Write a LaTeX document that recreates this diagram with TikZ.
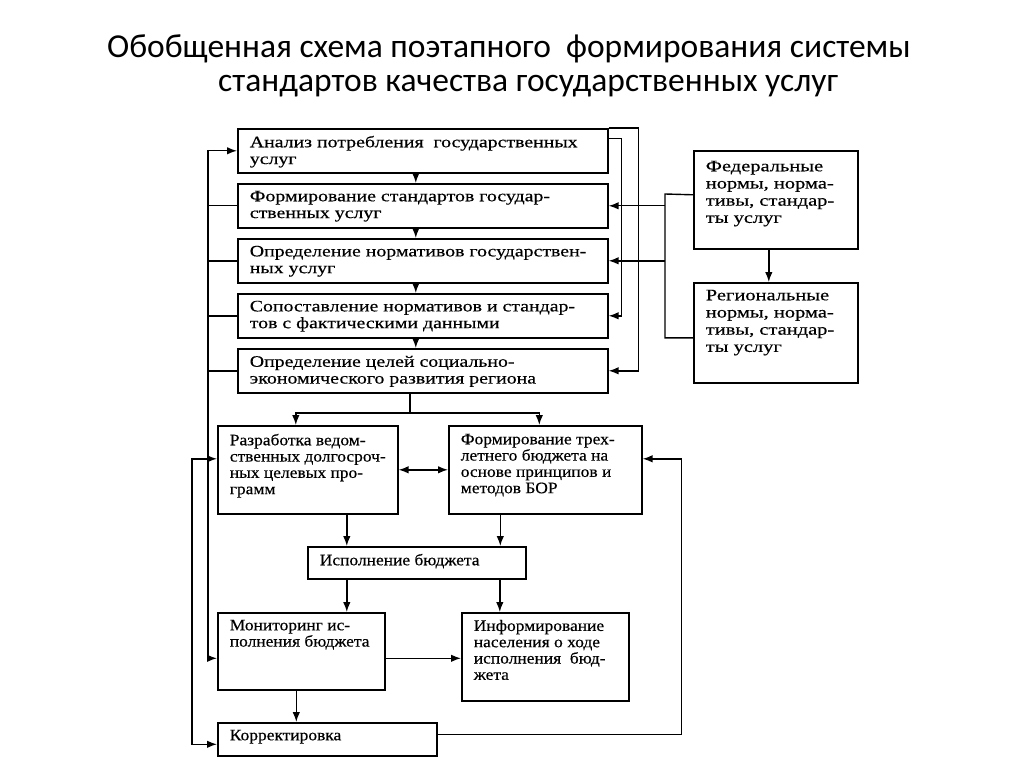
\documentclass[tikz,border=0pt]{standalone}
\usepackage{fontspec}
\setmainfont{Liberation Serif}
\newfontfamily\titlefont{Carlito}
\newfontfamily\boxfont[FakeStretch=1.24, FakeBold=0.4]{Liberation Serif}
\newfontfamily\sidefont[FakeStretch=1.28, FakeBold=0.4]{Liberation Serif}
\newfontfamily\lowfont[FakeStretch=1.09, FakeBold=0.4]{Liberation Serif}
\usetikzlibrary{arrows.meta}
\newcommand{\blktext}[3]{\parbox[c][#2pt][t]{#1pt}{\vspace*{7pt}\leftskip=12pt\rightskip=0pt plus 1fil\parindent=0pt #3}}

\begin{document}
\begin{tikzpicture}[x=1pt, y=-1pt,
	blk/.style={draw, line width=1.6pt, inner sep=0pt, anchor=north west, font=\boxfont\fontsize{16}{16.8}\selectfont},
	side/.style={blk, font=\sidefont\fontsize{16}{17.2}\selectfont},
	low/.style={blk, font=\lowfont\fontsize{16}{16.3}\selectfont},
	arr/.style={line width=1.4pt, -{Latex[length=10pt,width=7.5pt]}},
	dbl/.style={line width=1.4pt, {Latex[length=10pt,width=7.5pt]}-{Latex[length=10pt,width=7.5pt]}},
	ln/.style={line width=1.4pt},
	ttl/.style={anchor=base west, inner sep=0pt, font=\titlefont\fontsize{33.5}{40}\selectfont}]
	        \useasboundingbox (0, 0) rectangle (1024, 767);
	        
	        \node [ttl] at (107, 58) (ttl1) {Обобщенная схема поэтапного \ формирования системы};
	        \node [ttl] at (218, 92) (ttl2) {стандартов качества государственных услуг};
	        
	        \node [blk] at (237, 128) (anl) {\blktext{370}{44}{Анализ потребления \ государственных\\услуг}};
	        \node [blk] at (237, 183) (fst) {\blktext{370}{44}{Формирование стандартов государ-\\ственных услуг}};
	        \node [blk] at (237, 238) (onr) {\blktext{370}{44}{Определение нормативов государствен-\\ных услуг}};
	        \node [blk] at (237, 293) (sop) {\blktext{370}{44}{Сопоставление нормативов и стандар-\\тов с фактическими данными}};
	        \node [blk] at (237, 348) (cel) {\blktext{370}{44}{Определение целей социально-\\экономического развития региона}};
	        
	        \node [side] at (693, 150) (fed) {\blktext{164}{98}{\vspace*{3pt}Федеральные\\нормы, норма-\\тивы, стандар-\\ты услуг}};
	        \node [side] at (693, 282) (reg) {\blktext{164}{100}{Региональные\\нормы, норма-\\тивы, стандар-\\ты услуг}};
	        
	        \node [low] at (217, 425) (raz) {\blktext{180}{88}{\vspace*{1pt}Разработка ведом-\\ственных долгосроч-\\ных целевых про-\\грамм}};
	        \node [low] at (448, 425) (trb) {\blktext{193}{88}{\vspace*{1pt}Формирование трех-\\летнего бюджета на\\основе принципов и\\методов БОР}};
	        \node [low] at (307, 546) (isp) {\blktext{218}{32}{Исполнение бюджета}};
	        \node [low] at (217, 612) (mon) {\blktext{167}{77}{Мониторинг ис-\\полнения бюджета}};
	        \node [low] at (461, 612) (inf) {\blktext{167}{88}{Информирование\\населения о ходе\\исполнения \ бюд-\\жета}};
	        \node [low] at (217, 722) (kor) {\blktext{219}{33}{Корректировка}};
	        
	        \coordinate (fbus) at (665, 194);
	        \coordinate (spl) at (410, 413);
	        
	        \draw [arr] ([xshift=-7pt]anl.south) -- ([xshift=-7pt]fst.north);
	        \draw [arr] ([xshift=-7pt]fst.south) -- ([xshift=-7pt]onr.north);
	        \draw [arr] ([xshift=-7pt]onr.south) -- ([xshift=-7pt]sop.north);
	        \draw [arr] ([xshift=-7pt]sop.south) -- ([xshift=-7pt]cel.north);
	        
	        \draw [dbl] (anl.west) -- ++(-29, 0) |- ([yshift=-7pt]mon.west);
	        \draw [ln] (fst.west) -- ++(-29, 0);
	        \draw [ln] (onr.west) -- ++(-29, 0);
	        \draw [ln] (sop.west) -- ++(-29, 0);
	        \draw [ln] (cel.west) -- ++(-29, 0);
	        \draw [dbl] ([yshift=11pt]raz.west) -- ++(-25, 0) |- ([yshift=-5pt]kor.west);
	        
	        \draw [arr] ([yshift=12pt]anl.east) -- ++(13, 0) |- (sop.east);
	        \draw [arr] (anl.north east) -- ++(30, 0) |- (cel.east);
	        
	        \draw [arr] ([xshift=-7pt]fed.south) -- ([xshift=-7pt]reg.north);
	        \draw [ln] ([yshift=5pt]fed.west) -- (fbus) |- ([yshift=-5pt]reg.west);
	        \draw [arr] (fst.east -| fbus) -- (fst.east);
	        \draw [arr] (onr.east -| fbus) -- (onr.east);
	        
	        \draw [ln] (cel.south -| spl) -- (spl);
	        \draw [arr] (spl) -| ([xshift=-12pt]raz.north);
	        \draw [arr] (spl) -| ([xshift=-6pt]trb.north);
	        \draw [dbl] (raz.east) -- (trb.west);
	        \draw [arr] ([xshift=39pt]raz.south) -- ([xshift=39pt]raz.south |- isp.north);
	        \draw [arr] ([xshift=-45pt]trb.south) -- ([xshift=-45pt]trb.south |- isp.north);
	        \draw [arr] ([xshift=-70pt]isp.south) -- ([xshift=-70pt]isp.south |- mon.north);
	        \draw [arr] ([xshift=83pt]isp.south) -- ([xshift=83pt]isp.south |- inf.north);
	        \draw [arr] ([yshift=-7pt]mon.east) -- ([yshift=-7pt]mon.east -| inf.west);
	        \draw [arr] ([xshift=-5pt]mon.south) -- ([xshift=-5pt]mon.south |- kor.north);
	        \draw [arr] ([yshift=5pt]kor.east) -| ([xshift=39pt, yshift=11pt]trb.east) -- ([yshift=11pt]trb.east);
        \end{tikzpicture}
\end{document}
